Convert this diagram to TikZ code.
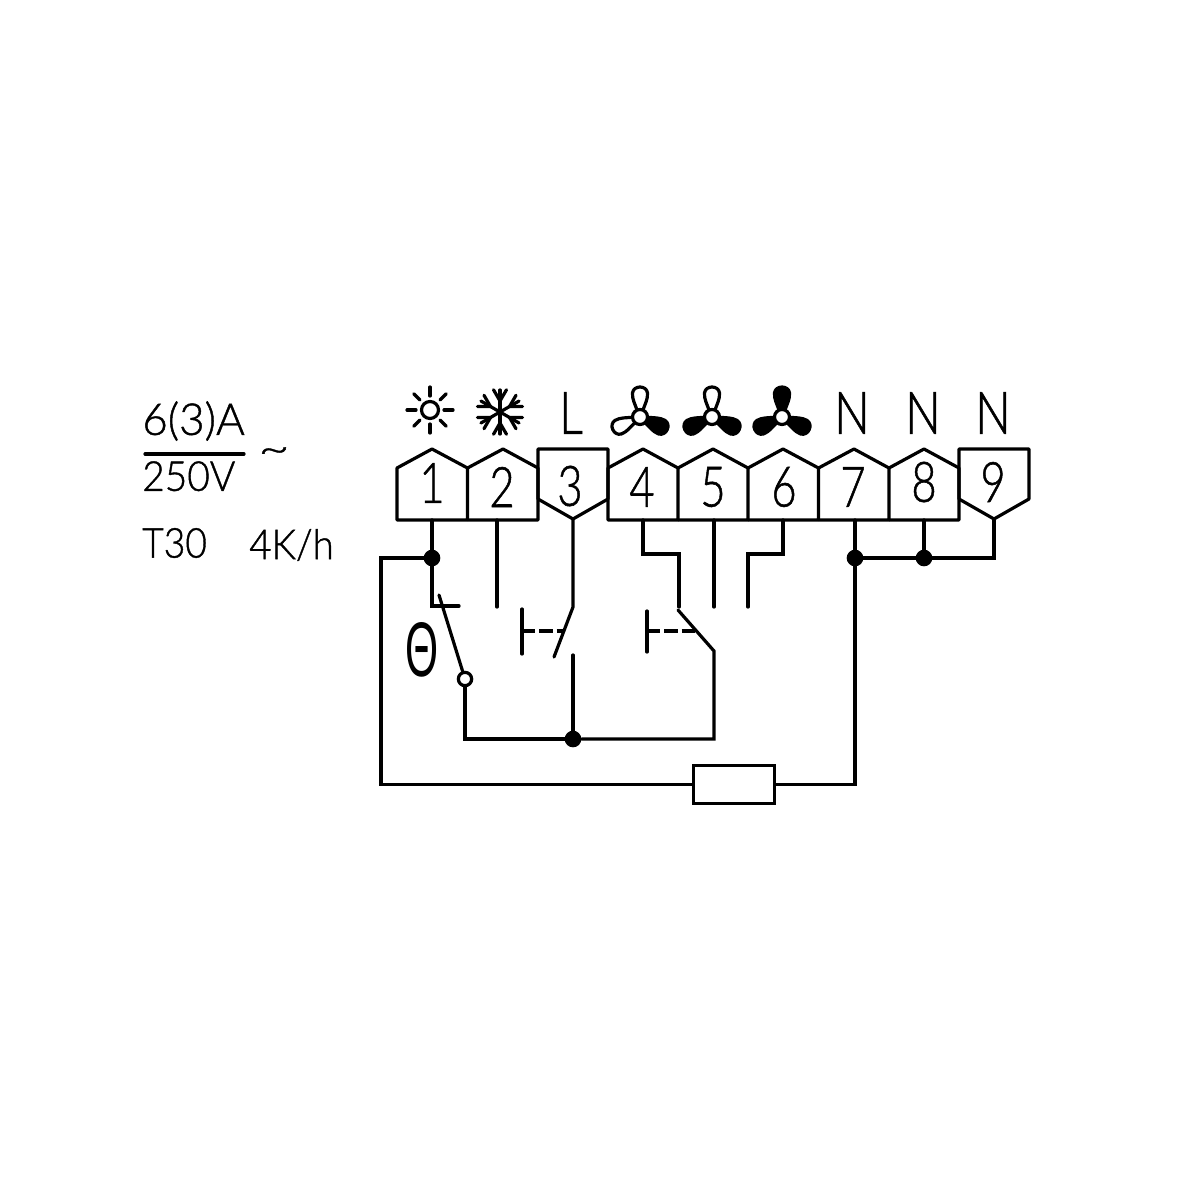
\documentclass[tikz,border=0pt]{standalone}
\usepackage{fontspec}
\setmainfont{Lato}[UprightFont=* Light,FakeBold=1]
\newfontfamily\thetafont{Liberation Sans}
\tikzset{
  wire/.style={line width=2.4pt,line cap=round,line join=miter},
  termbox/.style={line width=2.4pt,line join=round},
  dashwire/.style={line width=2.4pt,dash pattern=on 10pt off 3pt},
  dotnode/.style={circle,fill=black,draw=none,minimum size=12.5pt,inner sep=0pt},
  numlabel/.style={inner sep=0pt,font=\fontsize{42}{42}\selectfont,xscale=.78},
  toplabel/.style={inner sep=0pt,font=\fontsize{44}{44}\selectfont,xscale=.8},
  sidelabel/.style={inner sep=0pt,font=\fontsize{31}{31}\selectfont},
  pics/fanblade/.style={code={
    \draw[line width=2.4pt,fill=#1] (7,3) .. controls (13,5) and (18,8) .. (24,7.5) .. controls (32,6.5) and (32,-6.5) .. (24,-7.5) .. controls (18,-8) and (13,-5) .. (7,-3);
  }},
}
\begin{document}
\begin{tikzpicture}[x=0.75pt,y=0.75pt,yscale=-1,xscale=1]
  \useasboundingbox (0,0) rectangle (1200,1200);

  % terminals
  \draw[termbox] (397,520) -- (397,468) -- (432,449) -- (467.5,468) -- (467.5,520) -- cycle;
  \draw[termbox] (467.5,468) -- (503,449) -- (538,468) -- (538,520) -- (467.5,520);
  \draw[termbox] (538,449) -- (608,449) -- (608,499) -- (573,519) -- (538,499) -- cycle;
  \draw[termbox] (608,520) -- (608,468) -- (643,449) -- (678,468) -- (678,520) -- cycle;
  \draw[termbox] (678,468) -- (713,449) -- (748,468) -- (748,520) -- (678,520);
  \draw[termbox] (748,468) -- (783,449) -- (818.5,468) -- (818.5,520) -- (748,520);
  \draw[termbox] (818.5,468) -- (854,449) -- (889,468) -- (889,520) -- (818.5,520);
  \draw[termbox] (889,468) -- (924,449) -- (959,468) -- (959,520) -- (889,520);
  \draw[termbox] (959,449) -- (1029,449) -- (1029,499) -- (994,519) -- (959,499) -- cycle;

  % numbers
  \node[numlabel] (num1) at (432,483) {1};
  \node[numlabel] (num2) at (502,487) {2};
  \node[numlabel] (num3) at (570,486) {3};
  \node[numlabel] (num4) at (642,487) {4};
  \node[numlabel] (num5) at (713,487) {5};
  \node[numlabel] (num6) at (784,487) {6};
  \node[numlabel] (num7) at (853,487) {7};
  \node[numlabel] (num8) at (924,482) {8};
  \node[numlabel] (num9) at (993,482) {9};

  % symbols above
  \node[toplabel] (markL) at (571,413) {L};
  \node[toplabel] (markNa) at (852,413) {N};
  \node[toplabel] (markNb) at (923,413) {N};
  \node[toplabel] (markNc) at (993,413) {N};

  % sun
  \draw[line width=2.4pt] (430,410) circle (8.5);
  \foreach \a in {0,45,...,315}
    \draw[line width=2.4pt,line cap=round] (430,410) ++(\a:14) -- ++(\a:9);

  % snowflake
  \foreach \a in {30,90,...,330}{
    \begin{scope}[shift={(500,412)},rotate=\a]
      \draw[line width=2.4pt,line cap=round] (0,0) -- (22,0);
      \draw[line width=2.4pt,line cap=round] (11,0) -- ++(30:13) (11,0) -- ++(-30:13);
    \end{scope}
  }

  % fans
  \foreach \cx/\ca/\cb/\cc in {640/white/white/black,712/white/black/black,782/black/black/black}{
    \pic[rotate=90] at (\cx,417) {fanblade=\ca};
    \pic[rotate=205] at (\cx,417) {fanblade=\cb};
    \pic[rotate=-25] at (\cx,417) {fanblade=\cc};
    \draw[line width=2.4pt,fill=white] (\cx,417) circle (7.5);
  }

  % left texts
  \node[sidelabel,anchor=south west,xscale=1,font=\fontsize{33}{33}\selectfont] (rating) at (142,441) {6(3)A};
  \node[sidelabel,anchor=north west,xscale=.94] (voltage) at (142,461) {250V};
  \coordinate (fracl) at (145,454);
  \coordinate (fracr) at (244,454);
  \draw[wire] (fracl) -- (fracr);
  \node[sidelabel,xscale=1.3] (tilde) at (274,455) {\char"007E};
  \node[sidelabel,anchor=west,xscale=.9] (tclass) at (142,543) {T30};
  \node[sidelabel,anchor=west,xscale=.93] (kperh) at (249,545) {4K/h};
  \node[inner sep=0pt,font=\thetafont\fontsize{58}{58}\selectfont,xscale=.55] (theta) at (422,650) {Θ};

  % junctions and ends
  \node[dotnode] (dotA) at (432,558) {};
  \node[dotnode] (dotB) at (855,558) {};
  \node[dotnode] (dotC) at (924,558) {};
  \node[dotnode] (dotD) at (573,739) {};
  \node[circle,draw,line width=2.4pt,fill=white,minimum size=10pt,inner sep=0pt] (contact) at (465,679) {};
  \node[draw,line width=2.4pt,minimum width=61pt,minimum height=28pt,inner sep=0pt] (heater) at (734,784.5) {};
  \coordinate (t1) at (432,520);
  \coordinate (t2) at (497,520);
  \coordinate (t3) at (573,519);
  \coordinate (t4) at (643,520);
  \coordinate (t5) at (714,520);
  \coordinate (t6) at (783,520);
  \coordinate (t7) at (855,520);
  \coordinate (t8) at (924,520);
  \coordinate (t9) at (994,519);

  % wiring
  \draw[wire] (t1) -- (dotA);
  \draw[wire] (dotA) -- (432,606) -- (459,606);
  \draw[wire] (dotA) -- (381,558) -- (381,784.5) -- (heater.west);
  \draw[wire] (heater.east) -- (855,784.5) -- (dotB);
  \draw[wire] (dotB) -- (t7);
  \draw[wire] (dotB) -- (dotC);
  \draw[wire] (dotC) -- (t8);
  \draw[wire] (dotC) -- (994,558) -- (t9);
  \draw[wire] (t2) -- (497,607);
  \draw[wire] (t3) -- (573,607) -- (554,657);
  \draw[wire] (573,655) -- (dotD);
  \draw[wire] (t4) -- (643,554) -- (679,554) -- (679,607);
  \draw[wire] (t5) -- (714,607);
  \draw[wire] (t6) -- (783,554) -- (748,554) -- (748,607);

  % thermostat blade
  \draw[wire] (439,595) -- (contact);
  \draw[wire] (contact) -- (465,739) -- (dotD);
  \draw[wire] (dotD) -- (714,739) -- (714,651) -- (678,610);

  % buttons
  \draw[wire] (522,609) -- (522,654);
  \draw[dashwire] (522,631) -- (563,631);
  \draw[wire] (647,611) -- (647,652);
  \draw[dashwire] (647,631) -- (697,631);
\end{tikzpicture}
\end{document}
